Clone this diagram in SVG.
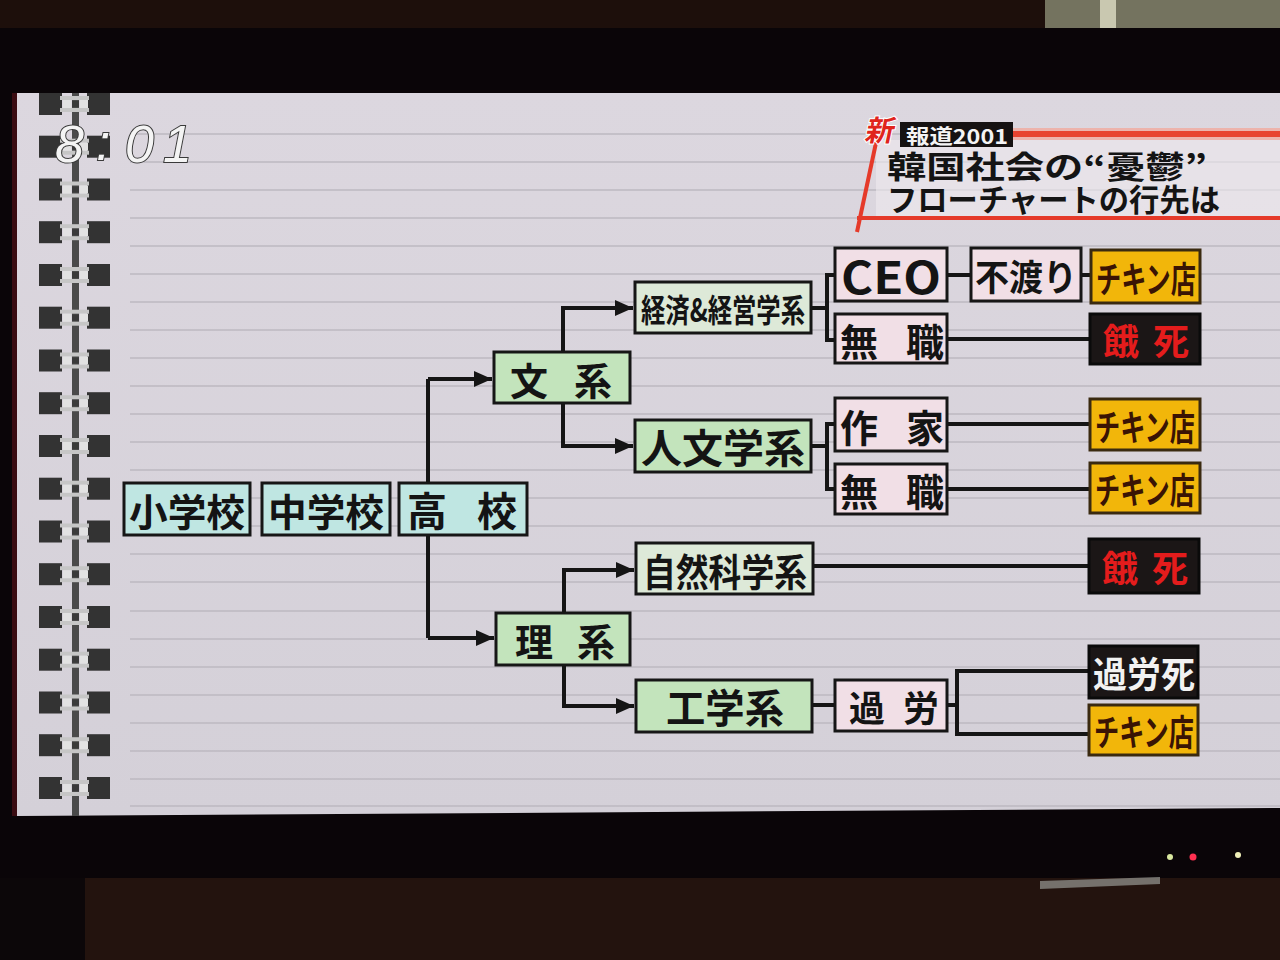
<svg xmlns="http://www.w3.org/2000/svg" width="1280" height="960" viewBox="0 0 1280 960">
<defs>
<style>
.box{stroke:#161616;stroke-width:3}
.cyan{fill:#bfe6e2}
.green{fill:#c3e4bc}
.pale{fill:#dde9d8}
.pink{fill:#f1dfe6}
.gold{fill:#f2b60a;stroke:#3a2a10}
.black{fill:#1b1616;stroke:#0a0a0a}
.t{font-family:"Noto Sans CJK JP","Noto Sans",sans-serif;font-weight:700;dominant-baseline:central;text-anchor:middle;fill:#141414}
.tb{fill:#3a1404}
.tr{fill:#e41c1c}
.tw{fill:#f2f2f2}
.ln{stroke:#151515;stroke-width:4;fill:none}
.nl{stroke:#bdb8c1;stroke-width:1.5}
</style>
<marker id="ah" markerUnits="userSpaceOnUse" markerWidth="18" markerHeight="16" refX="18" refY="8" orient="auto">
<path d="M0,0 L18,8 L0,16 z" fill="#151515"/>
</marker>
<linearGradient id="scr" x1="0" y1="0" x2="0" y2="1">
<stop offset="0" stop-color="#dcd7df"/>
<stop offset="1" stop-color="#d4d0d8"/>
</linearGradient>
<g id="ring">
<rect x="39" y="-11" width="23" height="22" fill="#333"/>
<rect x="87" y="-11" width="23" height="22" fill="#333"/>
<rect x="60" y="-8" width="29" height="4" fill="#c6c6c6"/>
<rect x="60" y="4" width="29" height="4" fill="#c6c6c6"/>
<rect x="63" y="-4" width="8" height="8" fill="#e2e2e2"/>
<rect x="80" y="-4" width="8" height="8" fill="#e2e2e2"/>
<rect x="72" y="-3" width="7" height="6" fill="#3a3a3a"/>
</g>
</defs>

<rect x="0" y="0" width="1280" height="960" fill="#0a0508"/>
<rect x="0" y="0" width="1280" height="28" fill="#1d0f0b"/>
<rect x="1045" y="0" width="235" height="28" fill="#74735f"/>
<rect x="1100" y="0" width="16" height="28" fill="#c9c8b0"/>
<rect x="0" y="878" width="1280" height="82" fill="#23130e"/>
<rect x="0" y="878" width="85" height="82" fill="#0c0709"/>
<polygon points="1040,881 1160,877 1160,884 1040,889" fill="#8a8a84" opacity="0.8"/>
<circle cx="1170" cy="857" r="3" fill="#d9e8a0"/>
<circle cx="1193" cy="857" r="3.5" fill="#ff3050"/>
<circle cx="1238" cy="855" r="3" fill="#f0f0b8"/>
<rect x="12" y="93" width="5" height="723" fill="#3a0c12"/>

<polygon points="17,93 1280,93 1280,808 17,816" fill="url(#scr)"/>
<g id="ruled">
<line class="nl" x1="130" y1="134" x2="1280" y2="134"/>
<line class="nl" x1="130" y1="162" x2="1280" y2="162"/>
<line class="nl" x1="130" y1="190" x2="1280" y2="190"/>
<line class="nl" x1="130" y1="218" x2="1280" y2="218"/>
<line class="nl" x1="130" y1="246" x2="1280" y2="246"/>
<line class="nl" x1="130" y1="274" x2="1280" y2="274"/>
<line class="nl" x1="130" y1="302" x2="1280" y2="302"/>
<line class="nl" x1="130" y1="330" x2="1280" y2="330"/>
<line class="nl" x1="130" y1="358" x2="1280" y2="358"/>
<line class="nl" x1="130" y1="386" x2="1280" y2="386"/>
<line class="nl" x1="130" y1="414" x2="1280" y2="414"/>
<line class="nl" x1="130" y1="442" x2="1280" y2="442"/>
<line class="nl" x1="130" y1="470" x2="1280" y2="470"/>
<line class="nl" x1="130" y1="498" x2="1280" y2="498"/>
<line class="nl" x1="130" y1="526" x2="1280" y2="526"/>
<line class="nl" x1="130" y1="554" x2="1280" y2="554"/>
<line class="nl" x1="130" y1="582" x2="1280" y2="582"/>
<line class="nl" x1="130" y1="611" x2="1280" y2="611"/>
<line class="nl" x1="130" y1="639" x2="1280" y2="639"/>
<line class="nl" x1="130" y1="667" x2="1280" y2="667"/>
<line class="nl" x1="130" y1="695" x2="1280" y2="695"/>
<line class="nl" x1="130" y1="723" x2="1280" y2="723"/>
<line class="nl" x1="130" y1="751" x2="1280" y2="751"/>
<line class="nl" x1="130" y1="779" x2="1280" y2="779"/>
<line class="nl" x1="130" y1="806" x2="1280" y2="806"/>
</g>

<g id="spiral">
<rect x="72" y="93" width="7" height="723" fill="#4a4a4a"/>
<use href="#ring" y="104"/>
<use href="#ring" y="146.7"/>
<use href="#ring" y="189.5"/>
<use href="#ring" y="232.2"/>
<use href="#ring" y="275"/>
<use href="#ring" y="317.7"/>
<use href="#ring" y="360.5"/>
<use href="#ring" y="403.2"/>
<use href="#ring" y="446"/>
<use href="#ring" y="488.7"/>
<use href="#ring" y="531.5"/>
<use href="#ring" y="574.2"/>
<use href="#ring" y="617"/>
<use href="#ring" y="659.7"/>
<use href="#ring" y="702.5"/>
<use href="#ring" y="745.2"/>
<use href="#ring" y="788"/>
</g>

<g id="clock" font-family="'Liberation Sans',sans-serif" font-size="52" font-style="italic" fill="#f4f4f4" stroke="#3a3a3a" stroke-width="2" paint-order="stroke">
<text x="55" y="162">8</text>
<text x="96" y="160">:</text>
<text x="125" y="162">0</text>
<text x="163" y="162">1</text>
</g>

<g id="title">
<rect x="876" y="140" width="404" height="77" fill="#eeeaef" opacity="0.6"/>
<rect x="1013" y="128" width="267" height="12" fill="#f3a496" opacity="0.7"/>
<rect x="1013" y="131" width="267" height="6" fill="#e8432f"/>
<line x1="857" y1="218" x2="1280" y2="218" stroke="#e53a2a" stroke-width="4"/>
<line x1="877" y1="138" x2="857" y2="232" stroke="#e53a2a" stroke-width="4"/>
<rect x="900" y="122" width="113" height="25" fill="#161212"/>
<text x="957" y="135" font-family="'Noto Sans CJK JP',sans-serif" font-weight="700" font-size="20" fill="#f4f4f4" dominant-baseline="central" text-anchor="middle" textLength="102" lengthAdjust="spacingAndGlyphs">報道2001</text>
<text x="864" y="141" font-family="'Noto Sans CJK JP',sans-serif" font-weight="700" font-size="29" fill="#e0241c" stroke="#ffffff" stroke-width="2" paint-order="stroke" transform="skewX(-12) translate(30,0)">新</text>
<text x="887" y="178" font-family="'Noto Sans CJK JP',sans-serif" font-weight="700" font-size="31" fill="#141414" textLength="320" lengthAdjust="spacingAndGlyphs">韓国社会の“憂鬱”</text>
<text x="887" y="211" font-family="'Noto Sans CJK JP',sans-serif" font-weight="700" font-size="31" fill="#141414" textLength="333" lengthAdjust="spacingAndGlyphs">フローチャートの行先は</text>
</g>

<g id="connectors">
<path class="ln" d="M428,379 L428,638"/>
<path class="ln" d="M428,379 L492,379" marker-end="url(#ah)"/>
<path class="ln" d="M428,638 L494,638" marker-end="url(#ah)"/>
<path class="ln" d="M563,352 L563,308 L633,308" marker-end="url(#ah)"/>
<path class="ln" d="M563,403 L563,446 L633,446" marker-end="url(#ah)"/>
<path class="ln" d="M564,613 L564,570 L634,570" marker-end="url(#ah)"/>
<path class="ln" d="M564,665 L564,706 L634,706" marker-end="url(#ah)"/>
<path class="ln" d="M811,308 L827,308 M835,275 L827,275 L827,340 L835,340"/>
<path class="ln" d="M947,275 L971,275 M1081,275 L1091,275"/>
<path class="ln" d="M947,339 L1090,339"/>
<path class="ln" d="M811,446 L827,446 M835,424 L827,424 L827,489 L835,489"/>
<path class="ln" d="M947,424 L1090,424"/>
<path class="ln" d="M947,489 L1090,489"/>
<path class="ln" d="M813,566 L1089,566"/>
<path class="ln" d="M812,705 L835,705"/>
<path class="ln" d="M947,705 L957,705 M1089,671 L957,671 L957,734 L1089,734"/>
</g>

<g id="n-shogakko"><rect class="box cyan" x="124" y="483" width="126" height="52"/><text class="t" x="187" y="509" font-size="38" textLength="116" lengthAdjust="spacingAndGlyphs">小学校</text></g>
<g id="n-chugakko"><rect class="box cyan" x="262" y="483" width="128" height="52"/><text class="t" x="326" y="509" font-size="38" textLength="116" lengthAdjust="spacingAndGlyphs">中学校</text></g>
<g id="n-koko"><rect class="box cyan" x="399" y="483" width="128" height="52"/><text class="t" x="462" y="509" font-size="40" textLength="110" lengthAdjust="spacing">高校</text></g>
<g id="n-bunkei"><rect class="box green" x="494" y="352" width="136" height="51"/><text class="t" x="561" y="378" font-size="38" textLength="102" lengthAdjust="spacing">文系</text></g>
<g id="n-rikei"><rect class="box green" x="496" y="613" width="134" height="52"/><text class="t" x="565" y="639" font-size="38" textLength="100" lengthAdjust="spacing">理系</text></g>
<g id="n-keizai"><rect class="box pale" x="635" y="282" width="176" height="51"/><text class="t" x="723" y="308" font-size="32" textLength="164" lengthAdjust="spacingAndGlyphs">経済&amp;経営学系</text></g>
<g id="n-jinbun"><rect class="box green" x="635" y="420" width="176" height="52"/><text class="t" x="723" y="446" font-size="40" textLength="164" lengthAdjust="spacingAndGlyphs">人文学系</text></g>
<g id="n-shizen"><rect class="box pale" x="636" y="543" width="177" height="51"/><text class="t" x="725" y="569" font-size="38" textLength="164" lengthAdjust="spacingAndGlyphs">自然科学系</text></g>
<g id="n-kogaku"><rect class="box green" x="636" y="680" width="176" height="52"/><text class="t" x="725" y="706" font-size="40" textLength="118" lengthAdjust="spacingAndGlyphs">工学系</text></g>
<g id="n-ceo"><rect class="box pink" x="835" y="248" width="112" height="53"/><text class="t" x="891" y="275" font-size="44" font-family="'Liberation Sans',sans-serif" textLength="100" lengthAdjust="spacingAndGlyphs">CEO</text></g>
<g id="n-fuwatari"><rect class="box pink" x="971" y="248" width="110" height="53"/><text class="t" x="1026" y="275" font-size="36" textLength="102" lengthAdjust="spacingAndGlyphs">不渡り</text></g>
<g id="n-mushoku1"><rect class="box pink" x="835" y="314" width="112" height="49"/><text class="t" x="892" y="339" font-size="38" textLength="104" lengthAdjust="spacing">無職</text></g>
<g id="n-sakka"><rect class="box pink" x="835" y="398" width="112" height="53"/><text class="t" x="892" y="425" font-size="38" textLength="104" lengthAdjust="spacing">作家</text></g>
<g id="n-mushoku2"><rect class="box pink" x="835" y="464" width="112" height="50"/><text class="t" x="892" y="489" font-size="38" textLength="104" lengthAdjust="spacing">無職</text></g>
<g id="n-karo"><rect class="box pink" x="835" y="680" width="112" height="51"/><text class="t" x="894" y="706" font-size="36" textLength="90" lengthAdjust="spacing">過労</text></g>
<g id="n-chicken1"><rect class="box gold" x="1091" y="250" width="109" height="53"/><text class="t tb" x="1146" y="277" font-size="36" textLength="100" lengthAdjust="spacingAndGlyphs">チキン店</text></g>
<g id="n-gashi1"><rect class="box black" x="1090" y="314" width="110" height="50"/><text class="t tr" x="1146" y="339" font-size="36" textLength="86" lengthAdjust="spacing">餓死</text></g>
<g id="n-chicken2"><rect class="box gold" x="1090" y="399" width="110" height="51"/><text class="t tb" x="1145" y="425" font-size="36" textLength="100" lengthAdjust="spacingAndGlyphs">チキン店</text></g>
<g id="n-chicken3"><rect class="box gold" x="1090" y="463" width="110" height="50"/><text class="t tb" x="1145" y="488" font-size="36" textLength="100" lengthAdjust="spacingAndGlyphs">チキン店</text></g>
<g id="n-gashi2"><rect class="box black" x="1089" y="539" width="110" height="54"/><text class="t tr" x="1145" y="566" font-size="36" textLength="86" lengthAdjust="spacing">餓死</text></g>
<g id="n-karoshi"><rect class="box black" x="1089" y="646" width="109" height="52"/><text class="t tw" x="1144" y="672" font-size="36" textLength="102" lengthAdjust="spacingAndGlyphs">過労死</text></g>
<g id="n-chicken4"><rect class="box gold" x="1089" y="705" width="109" height="50"/><text class="t tb" x="1144" y="730" font-size="36" textLength="100" lengthAdjust="spacingAndGlyphs">チキン店</text></g>
</svg>
